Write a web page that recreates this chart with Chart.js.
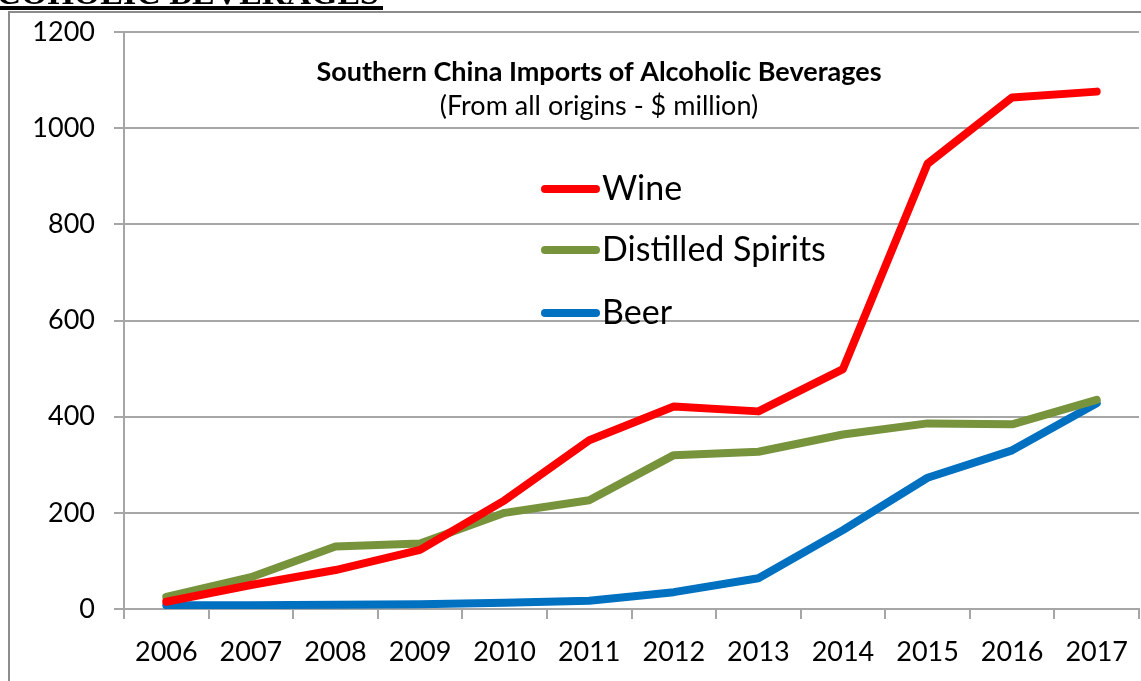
<!DOCTYPE html>
<html>
<head>
<meta charset="utf-8">
<script src="https://cdn.jsdelivr.net/npm/chart.js@4/dist/chart.umd.min.js"></script>
<style>
  html, body { margin: 0; padding: 0; background: #fff; overflow: hidden; }
  #wrap { position: relative; width: 1141px; height: 681px; }
</style>
</head>
<body>
<div id="wrap"><canvas id="c" width="1141" height="681"></canvas></div>
<script>
// Import values, $ million
const years = ['2006', '2007', '2008', '2009', '2010', '2011', '2012', '2013', '2014', '2015', '2016', '2017'];
const wine = [15, 50, 81, 123, 226, 351, 421, 411, 499, 926, 1064, 1076];
const spirits = [25, 66, 130, 136, 200, 226, 320, 327, 363, 386, 384, 435];
const beer = [8, 8, 9, 10, 13, 17, 35, 64, 164, 273, 330, 428];

const seriesNames = ['Wine', 'Distilled Spirits', 'Beer'];
const seriesColors = ['#FF0000', '#77933C', '#0070C0'];

const pageHeading = 'ALCOHOLIC BEVERAGES';
const chartTitle = 'Southern China Imports of Alcoholic Beverages';
const chartSubtitle = '(From all origins - $ million)';

const yTicks = { min: 0, max: 1200, step: 200 };

const FONT = 'Lato, "Open Sans", sans-serif';
const GRID = '#A6A6A6';

// Page heading, underline and frame behind the chart
const framePlugin = {
  id: 'frame',
  beforeDraw(chart) {
    const ctx = chart.ctx;
    ctx.save();
    ctx.fillStyle = '#fff';
    ctx.fillRect(0, 0, chart.width, chart.height);
    ctx.fillStyle = '#000';
    ctx.font = 'bold 34px "Liberation Serif", serif';
    ctx.textAlign = 'right';
    ctx.textBaseline = 'alphabetic';
    ctx.fillText(pageHeading, 379, 4);
    ctx.fillRect(0, 6, 383, 4);
    ctx.fillStyle = '#8C8C8C';
    ctx.fillRect(8, 11, chart.width - 8, 2);
    ctx.fillRect(8, 11, 2, chart.height - 11);
    ctx.restore();
  }
};

// Title block and legend inside the plot
const overlayPlugin = {
  id: 'overlay',
  afterDraw(chart) {
    const ctx = chart.ctx;
    ctx.save();
    ctx.fillStyle = '#000';
    ctx.textAlign = 'center';
    ctx.textBaseline = 'middle';
    ctx.font = 'bold 27px ' + FONT;
    ctx.fillText(chartTitle, 599, 72);
    ctx.font = '27px ' + FONT;
    ctx.fillText(chartSubtitle, 599, 106);

    const rows = [189, 250, 313];
    chart.data.datasets.forEach((ds, i) => {
      const y = rows[i];
      ctx.strokeStyle = ds.borderColor;
      ctx.lineWidth = 8;
      ctx.lineCap = 'round';
      ctx.beginPath();
      ctx.moveTo(545, y);
      ctx.lineTo(596, y);
      ctx.stroke();
      ctx.fillStyle = '#000';
      ctx.textAlign = 'left';
      ctx.font = '34px ' + FONT;
      ctx.fillText(ds.label, 602, y);
    });
    ctx.restore();
  }
};

const series = [wine, spirits, beer];

new Chart(document.getElementById('c'), {
  type: 'line',
  data: {
    labels: years,
    datasets: series.map((values, i) => ({
      label: seriesNames[i],
      data: values,
      borderColor: seriesColors[i],
      backgroundColor: seriesColors[i],
      borderWidth: 8,
      borderCapStyle: 'round',
      borderJoinStyle: 'round',
      pointRadius: 0,
      tension: 0,
      fill: false
    }))
  },
  options: {
    responsive: false,
    animation: false,
    devicePixelRatio: 1,
    layout: { padding: { left: 0, right: 2, top: 32, bottom: 0 } },
    plugins: {
      legend: { display: false },
      title: { display: false },
      tooltip: { enabled: false }
    },
    scales: {
      x: {
        type: 'category',
        offset: true,
        grid: { offset: true, drawOnChartArea: false, drawTicks: true, tickLength: 10, color: GRID, lineWidth: 2 },
        border: { display: true, color: GRID, width: 2 },
        ticks: { color: '#000', font: { family: FONT, size: 27 }, padding: 17, maxRotation: 0, autoSkip: false },
        afterFit(scale) {
          scale.height = 72;
          scale.paddingLeft = 0;
          scale.paddingRight = 0;
        }
      },
      y: {
        min: yTicks.min,
        max: yTicks.max,
        ticks: {
          stepSize: yTicks.step,
          color: '#000',
          font: { family: FONT, size: 27 },
          padding: 19,
          callback: (v) => String(v)
        },
        grid: { color: GRID, lineWidth: 2, tickLength: 10, drawTicks: true },
        border: { display: true, color: GRID, width: 2 },
        afterFit(scale) {
          scale.width = 124;
          scale.paddingTop = 0;
          scale.paddingBottom = 0;
        }
      }
    }
  },
  plugins: [framePlugin, overlayPlugin]
});
</script>
</body>
</html>
